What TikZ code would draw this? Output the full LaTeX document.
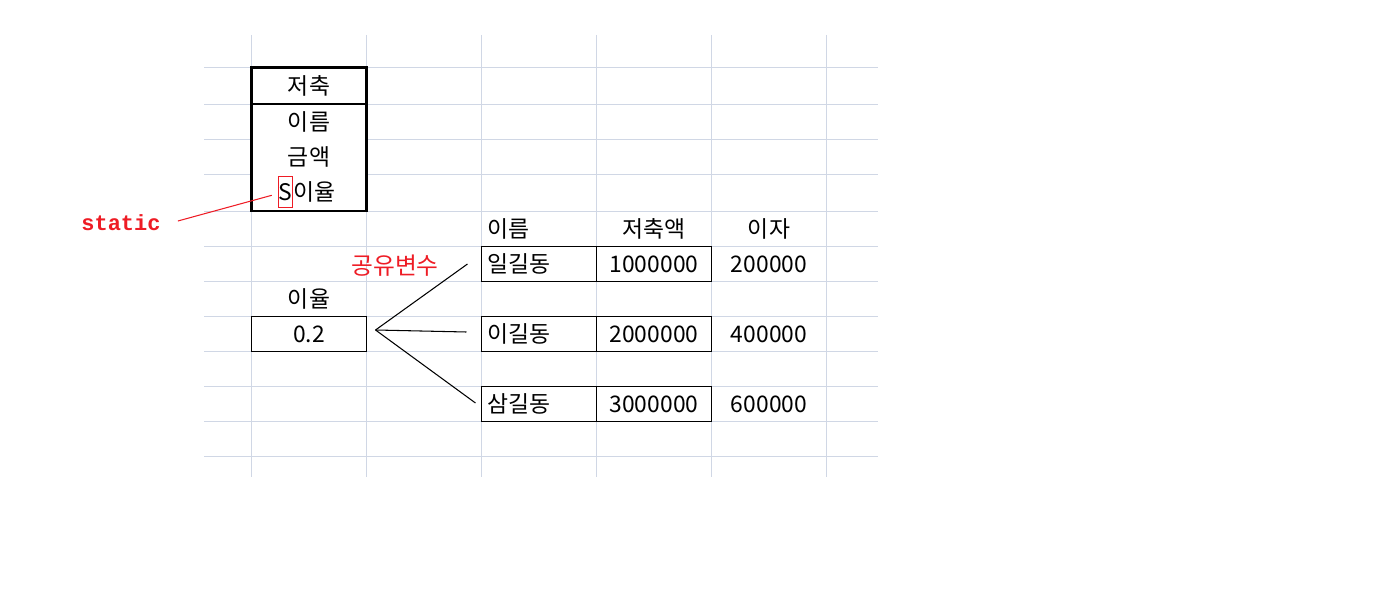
\documentclass[tikz,border=0pt]{standalone}
\usepackage{fontspec}
\setmainfont{Noto Sans CJK KR}
\newfontfamily\memomono{Liberation Mono}
\usepackage{tikz}
\usetikzlibrary{calc, positioning}
\definecolor{gridgray}{HTML}{D0D7E5}
\definecolor{memored}{HTML}{EE1C25}
\tikzstyle{gridline}  = [gridgray, line width=0.6pt]
\tikzstyle{thickbox}  = [line width=1.5pt, line cap=rect]
\tikzstyle{txt}       = [inner sep=0pt, font=\fontsize{13}{15}\selectfont]
\tikzstyle{cell}      = [txt, draw, line width=0.6pt, minimum width=2.3cm, minimum height=0.7cm]
\tikzstyle{namecell}  = [cell, inner xsep=0.12cm, text width=2.06cm, align=left]
\tikzstyle{memo}      = [memored, inner sep=0pt]
\tikzstyle{memoline}  = [memored, line width=0.6pt]
\tikzstyle{link}      = [line width=0.6pt]

\begin{document}
\begin{tikzpicture}[x=0.02cm, y=-0.02cm]
  \useasboundingbox (0,0) rectangle (1396,611);

  %sheet grid
  \foreach \x in {251.5,366.5,481.5,596.5,711.5,826.5}{
    \draw[gridline] (\x,35) -- (\x,477);
  }
  \foreach \y in {67.5,104.5,139.5,174.5,211.5,246.5,281.5,316.5,351.5,386.5,421.5,456.5}{
    \draw[gridline] (204,\y) -- (878,\y);
  }

  %class box on the top
  \fill[white] (251.5,67.5) rectangle (366.5,211);
  \node[txt] (s0) at (309,86) {저축};
  \node[txt] (s1) at (309,122) {이름};
  \node[txt] (s2) at (309,157) {금액};
  \node[txt, draw=memored, line width=0.6pt, minimum width=0.28cm, minimum height=0.62cm] (sbox) at (285.3,192.3) {S};
  \node[txt, anchor=west] (s3) at (sbox.east) {이율};
  \draw[thickbox] (251.5,67.5) rectangle (366.5,211);
  \draw[thickbox] (251.5,104) -- (366.5,104);

  %red notes
  \node[memo, font=\memomono\bfseries\fontsize{12.5}{14}\selectfont] (stat) at (121,223) {static};
  \node[memo, font=\fontsize{13.5}{15}\selectfont] (share) at (395,266) {공유변수};
  \draw[memoline] ($(stat.east)+(17,-2)$) -- ($(sbox.west)+(-6,3)$);

  %shared value on the left
  \node[txt] (ratelbl) at (309,299) {이율};
  \node[cell, fill=white] (rate) at (309,334) {0.2};

  %table on the right
  \node[txt, anchor=west] (h1) at (487,229) {이름};
  \node[txt] (h2) at (654,229) {저축액};
  \node[txt] (h3) at (769,229) {이자};
  \foreach \who/\amt/\intr[count=\i] in {일길동/1000000/200000, 이길동/2000000/400000, 삼길동/3000000/600000}{
    \node[namecell, fill=white] (n\i) at (539,194+70*\i) {\who};
    \node[cell, fill=white] (a\i) at (654,194+70*\i) {\amt};
    \node[txt] (z\i) at (769,194+70*\i) {\intr};
  }

  \coordinate (fan) at ($(rate.east)+(8.5,-4)$);
  \draw[link] (fan) -- ($(n1.west)+(-13.5,0)$);
  \draw[link] (fan) -- ($(n2.west)+(-14.5,-2)$);
  \draw[link] (fan) -- ($(n3.west)+(-5.5,-1)$);
\end{tikzpicture}
\end{document}
